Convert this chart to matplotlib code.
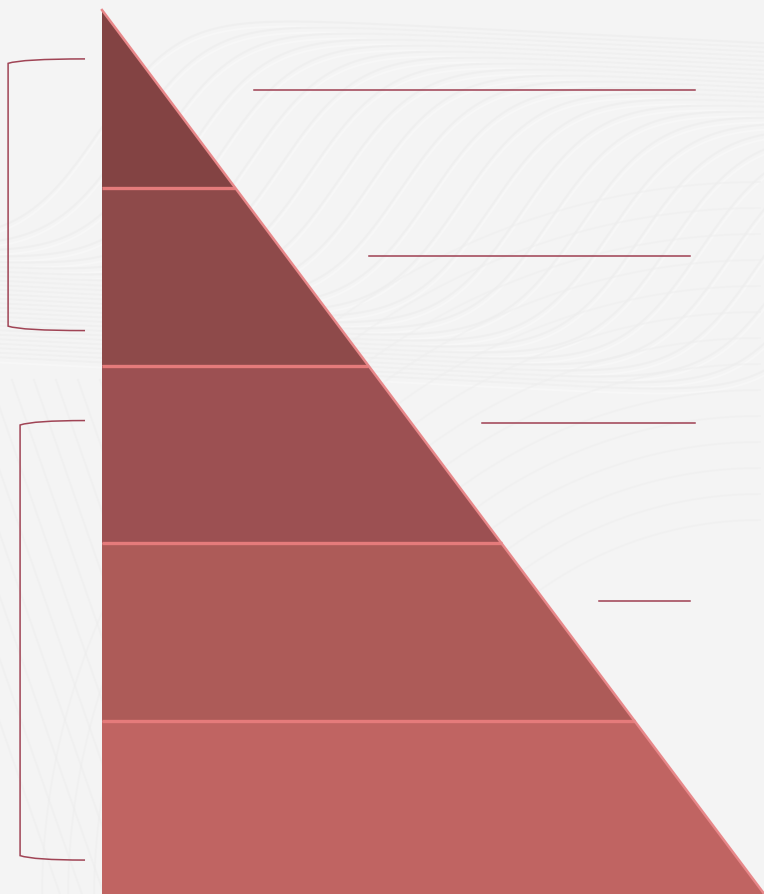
import numpy as np
import matplotlib.pyplot as plt
from matplotlib.path import Path
from matplotlib.patches import Polygon, PathPatch

# pyramid layers, top to bottom (equal steps, bottom one cut by the frame)
layer_values = [1, 1, 1, 1, 1]
layer_colors = ['#834343', '#8e4a4a', '#9c5052', '#ad5b58', '#c06462']

# leader lines on the right: level, x start, x end (pyramid units)
leader_levels = [4.551, 3.618, 2.680, 1.674]
leader_starts = [0.228, 0.401, 0.571, 0.746]
leader_ends = [0.890, 0.883, 0.890, 0.883]

# brackets on the left: top level, bottom level, x of spine
bracket_tops = [4.725, 2.691]
bracket_bottoms = [3.197, 0.219]
bracket_x = [-0.141, -0.123]

n = sum(layer_values)
fig = plt.figure(figsize=(7.64, 8.94), dpi=100)
fig.patch.set_facecolor('#f4f4f4')

# background waves, drawn in pixel space
bg = fig.add_axes([0, 0, 1, 1])
bg.set_xlim(0, 764)
bg.set_ylim(894, 0)
bg.axis('off')
xs = np.linspace(-200, 900, 500)
for k in range(26):
    xk = 100 + k * 30
    yk = 250 + k * 6
    yy = yk - 120 * (1 + np.tanh((xs - xk) / 80)) + 0.05 * (xs - xk)
    bg.plot(xs, yy, color='#ebebeb', lw=1.5, alpha=0.5, zorder=0)
    bg.plot(xs, yy + 5, color='#fafafa', lw=1.5, alpha=0.5, zorder=0)
for k in range(14):
    r = 380 + k * 26
    th = np.linspace(np.pi * 1.0, np.pi * 1.5, 200)
    bg.plot(760 + r * np.cos(th), 900 + r * np.sin(th), color='#eeeeee',
            lw=1.4, alpha=0.5, zorder=0)
for k in range(12):
    x0 = -120 + k * 22
    yy = np.linspace(380, 894, 100)
    bg.plot(x0 + 0.35 * (yy - 380), yy, color='#ededed', lw=1.4, alpha=0.5)

ax = fig.add_axes([0, 0, 1, 1])
ax.patch.set_alpha(0)
ax.set_xlim(-102 / 666, 662 / 666)
ax.set_ylim(5 / 177.5, 897.5 / 177.5)
ax.axis('off')

def width_at(level):
    return 1 - level / n

# layers
bottom = 0
for v, c in zip(layer_values[::-1], layer_colors[::-1]):
    top = bottom + v
    poly = [(0, bottom), (width_at(bottom), bottom), (width_at(top), top), (0, top)]
    ax.add_patch(Polygon(poly, closed=True, facecolor=c, edgecolor='none', zorder=2))
    bottom = top

# separators
level = 0
for v in layer_values[::-1][:-1]:
    level += v
    ax.plot([0, width_at(level)], [level, level], color='#e57b7b', lw=2.4,
            zorder=3, solid_capstyle='butt')

# hypotenuse edge
ax.plot([0, 1], [n, 0], color='#e8888a', lw=1.8, zorder=3)

# leader lines
for lv, x0, x1 in zip(leader_levels, leader_starts, leader_ends):
    ax.plot([x0, x1], [lv, lv], color='#9e3f52', lw=1.1, zorder=3)

# brackets
for yt, yb, xsp in zip(bracket_tops, bracket_bottoms, bracket_x):
    xe = -0.0255
    dy = 0.025
    verts = [(xe, yt), (xsp + 0.02, yt), (xsp, yt - dy),
             (xsp, yb + dy),
             (xsp + 0.02, yb), (xe, yb)]
    codes = [Path.MOVETO, Path.CURVE3, Path.CURVE3,
             Path.LINETO,
             Path.CURVE3, Path.CURVE3]
    ax.add_patch(PathPatch(Path(verts, codes), facecolor='none',
                           edgecolor='#a04455', lw=1.1, zorder=3))

fig.savefig('out.png', dpi=100, facecolor=fig.get_facecolor())
